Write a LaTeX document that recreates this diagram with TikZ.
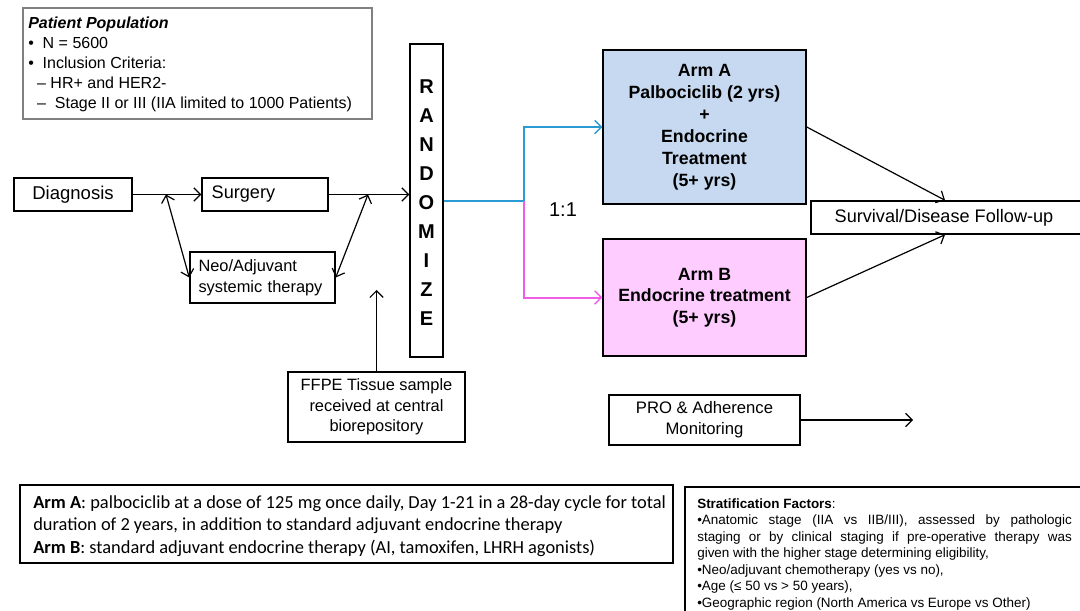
\documentclass[tikz,border=0pt]{standalone}
\usepackage{fontspec}
\setmainfont{Liberation Sans}
\newfontfamily\calibri{Carlito}
\usetikzlibrary{arrows.meta}
\definecolor{armAfill}{HTML}{C6D9F0}
\definecolor{armBfill}{HTML}{FFCCFF}
\definecolor{blueline}{HTML}{2A9BD3}
\definecolor{magline}{HTML}{F05DEB}
\definecolor{popgray}{HTML}{808080}
\begin{document}
\begin{tikzpicture}[x=0.75pt,y=-0.75pt,
  box/.style={draw=black, line width=1.1pt, inner sep=0pt, align=center},
  tip/.tip={Straight Barb[length=5pt,width=10pt,line width=0.9pt]},
  arr/.style={-tip, line width=0.9pt},
  darr/.style={tip-tip, line width=0.9pt},
  lbl/.style={font=\fontsize{12.3}{15.5}\selectfont},
  armtxt/.style={font=\bfseries\fontsize{13.3}{16.5}\selectfont},
  rl/.style={font=\bfseries\fontsize{15}{16}\selectfont, inner sep=0pt}
]
\useasboundingbox (0,0) rectangle (1080,610);

% Patient population
\node[box, draw=popgray, line width=1.4pt, minimum width=261.75pt, minimum height=83.25pt] (pop) at (197.5,63.5) {};
\node[anchor=north west, align=left, inner sep=0pt, font=\fontsize{12}{15}\selectfont] (poptext) at (28,17)
 {\textbf{\textit{Patient Population}}\\
  • \ N = 5600\\
  • \ Inclusion Criteria:\\
  \ \ – HR+ and HER2-\\
  \ \ –\ \ Stage II or III (IIA limited to 1000 Patients)};

% Flow
\node[box, font=\fontsize{13.9}{16}\selectfont, minimum width=88.5pt, minimum height=24.75pt] (diag) at (73,194.5) {Diagnosis};
\node[box, font=\fontsize{13.6}{16}\selectfont, minimum width=94.5pt, minimum height=24.75pt, align=left, text width=80pt] (surg) at (265,194.5) {Surgery};
\node[box, lbl, minimum width=108.75pt, minimum height=38.25pt, align=left, text width=96pt] (neo) at (262.5,277.5) {Neo/Adjuvant\\systemic therapy};
\node[box, minimum width=24.75pt, minimum height=234.75pt] (rand) at (426.5,200.5) {};
\foreach \ch [count=\i from 0] in {R,A,N,D,O,M,I,Z,E}
  \node[rl] (r\i) at (426.5,{87+\i*28.9}) {\ch};
\node[box, lbl, minimum width=132.75pt, minimum height=52.5pt] (ffpe) at (376.5,407) {FFPE Tissue sample\\received at central\\biorepository};

\coordinate (j1) at (166,194.5);
\coordinate (j2) at (368,194.5);
\coordinate (ffpetip) at (376.5,290);
\draw[arr] (diag.east) -- (surg.west);
\draw[arr] (surg.east) -- (rand.west |- surg.east);
\draw[darr] (j1) -- (neo.west);
\draw[darr] (j2) -- (neo.east);
\draw[arr] (ffpe.north) -- (ffpetip);

% Arms
\node[box, fill=armAfill, armtxt, minimum width=152.25pt, minimum height=115.5pt] (armA) at (704.5,127)
 {Arm A\\Palbociclib (2 yrs)\\+\\Endocrine\\Treatment\\(5+ yrs)};
\node[box, fill=armBfill, armtxt, minimum width=152.25pt, minimum height=87.75pt, font=\bfseries\fontsize{13.3}{16}\selectfont] (armB) at (704.5,297.5)
 {Arm B\\Endocrine treatment\\(5+ yrs)};

\coordinate (split) at (524,201);
\draw[blueline, line width=1.5pt, -{Straight Barb[length=5pt,width=10pt,line width=1pt]}] (rand.east |- split) -- (split) |- (armA.west);
\draw[magline, line width=1.5pt, -{Straight Barb[length=5pt,width=10pt,line width=1pt]}] (split) |- (armB.west);
\node[font=\fontsize{15}{18}\selectfont] (ratio) at (563,210) {1:1};

% Follow-up
\node[box, font=\fontsize{13.6}{16}\selectfont, minimum width=205.5pt, minimum height=24.75pt] (surv) at (948,217.5) {Survival/Disease Follow-up\hspace*{6pt}};
\draw[arr] (armA.east) -- ([xshift=-2.25pt]surv.north);
\draw[arr] (armB.east) -- ([xshift=-2.25pt]surv.south);

\node[box, font=\fontsize{12.5}{15.5}\selectfont, minimum width=143.25pt, minimum height=37.5pt] (pro) at (704.5,420) {PRO \& Adherence\\Monitoring};
\coordinate (proend) at (913,420);
\draw[arr] (pro.east) -- (proend);

% Bottom notes
\node[box, minimum width=489.75pt, minimum height=58.5pt] (notes) at (346.5,524) {};
\node[anchor=north west, align=left, inner sep=0pt, font=\calibri\fontsize{13.8}{16.9}\selectfont] (notestext) at (33,495)
 {\textbf{Arm A}: palbociclib at a dose of 125 mg once daily, Day 1-21 in a 28-day cycle for total\\
  duration of 2 years, in addition to standard adjuvant endocrine therapy\\
  \textbf{Arm B}: standard adjuvant endocrine therapy (AI, tamoxifen, LHRH agonists)};

\draw[line width=1.1pt] (1095,487) -- (685,487) -- (685,625);
\node[anchor=north west, align=left, inner sep=0pt, font=\fontsize{10.1}{12.4}\selectfont] (strat) at (697,498)
 {\textbf{Stratification Factors}:\\
  \makebox[281pt][s]{•Anatomic stage (IIA vs IIB/III), assessed by pathologic}\\
  \makebox[281pt][s]{staging or by clinical staging if pre-operative therapy was}\\
  given with the higher stage determining eligibility,\\
  •Neo/adjuvant chemotherapy (yes vs no),\\
  •Age (≤ 50 vs > 50 years),\\
  •Geographic region (North America vs Europe vs Other)};
\end{tikzpicture}
\end{document}
